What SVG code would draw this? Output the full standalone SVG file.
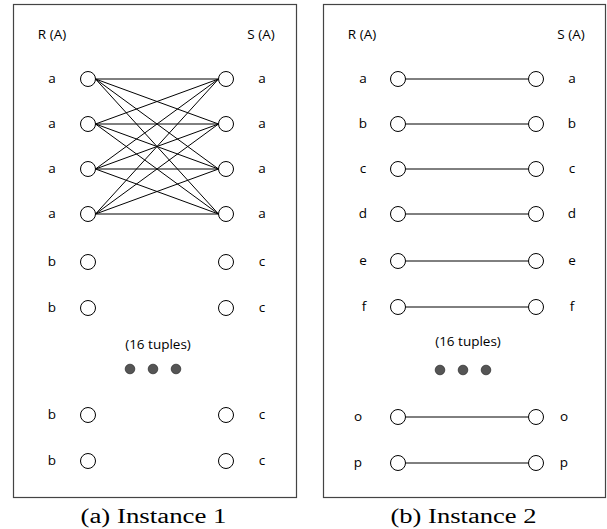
<svg xmlns="http://www.w3.org/2000/svg" width="607" height="529" viewBox="0 0 607 529">
<style>
.frame{fill:#fff;stroke:#444;stroke-width:1.2}
.n{fill:#fff;stroke:#000;stroke-width:1}
.lbl{font-family:"Open Sans","Liberation Sans",sans-serif;font-size:13.5px;fill:#000;text-anchor:middle}
.cap{font-family:"Liberation Serif","DejaVu Serif",serif;font-size:20px;fill:#000;text-anchor:middle}
.dot{fill:#555;stroke:#333;stroke-width:0.8}
.e{stroke:#000;stroke-width:1;fill:none}
</style>
<rect width="607" height="529" fill="#fff"/>
<g id="panel-a">
<rect class="frame" x="13.5" y="4.5" width="283" height="493"/>
<text class="lbl" x="52" y="39">R (A)</text>
<text class="lbl" x="261" y="39">S (A)</text>
<g id="edges-a">
<path class="e" d="M95.5,79L218.5,79M95.5,79L218.5,124M95.5,79L218.5,169M95.5,79L218.5,214M95.5,124L218.5,79M95.5,124L218.5,124M95.5,124L218.5,169M95.5,124L218.5,214M95.5,169L218.5,79M95.5,169L218.5,124M95.5,169L218.5,169M95.5,169L218.5,214M95.5,214L218.5,79M95.5,214L218.5,124M95.5,214L218.5,169M95.5,214L218.5,214"/>
</g>
<g id="a-r1"><circle class="n" cx="88" cy="79" r="7.5"/><text class="lbl" x="52" y="83">a</text></g>
<g id="a-r2"><circle class="n" cx="88" cy="124" r="7.5"/><text class="lbl" x="52" y="128">a</text></g>
<g id="a-r3"><circle class="n" cx="88" cy="169" r="7.5"/><text class="lbl" x="52" y="173">a</text></g>
<g id="a-r4"><circle class="n" cx="88" cy="214" r="7.5"/><text class="lbl" x="52" y="218">a</text></g>
<g id="a-r5"><circle class="n" cx="88" cy="262" r="7.5"/><text class="lbl" x="52" y="266">b</text></g>
<g id="a-r6"><circle class="n" cx="88" cy="308" r="7.5"/><text class="lbl" x="52" y="312">b</text></g>
<g id="a-r7"><circle class="n" cx="88" cy="415" r="7.5"/><text class="lbl" x="52" y="419">b</text></g>
<g id="a-r8"><circle class="n" cx="88" cy="461" r="7.5"/><text class="lbl" x="52" y="465">b</text></g>
<g id="a-s1"><circle class="n" cx="226" cy="79" r="7.5"/><text class="lbl" x="262" y="83">a</text></g>
<g id="a-s2"><circle class="n" cx="226" cy="124" r="7.5"/><text class="lbl" x="262" y="128">a</text></g>
<g id="a-s3"><circle class="n" cx="226" cy="169" r="7.5"/><text class="lbl" x="262" y="173">a</text></g>
<g id="a-s4"><circle class="n" cx="226" cy="214" r="7.5"/><text class="lbl" x="262" y="218">a</text></g>
<g id="a-s5"><circle class="n" cx="226" cy="262" r="7.5"/><text class="lbl" x="262" y="266">c</text></g>
<g id="a-s6"><circle class="n" cx="226" cy="308" r="7.5"/><text class="lbl" x="262" y="312">c</text></g>
<g id="a-s7"><circle class="n" cx="226" cy="415" r="7.5"/><text class="lbl" x="262" y="419">c</text></g>
<g id="a-s8"><circle class="n" cx="226" cy="461" r="7.5"/><text class="lbl" x="262" y="465">c</text></g>
<text class="lbl" x="158" y="349">(16 tuples)</text>
<circle class="dot" cx="130" cy="369" r="4.8"/>
<circle class="dot" cx="153" cy="369" r="4.8"/>
<circle class="dot" cx="176" cy="369" r="4.8"/>
<text class="cap" x="153.5" y="523" textLength="146" lengthAdjust="spacingAndGlyphs">(a) Instance 1</text>
</g>
<g id="panel-b">
<rect class="frame" x="323.5" y="4.5" width="282" height="493"/>
<text class="lbl" x="362" y="39">R (A)</text>
<text class="lbl" x="571" y="39">S (A)</text>
<g id="edges-b">
<path class="e" d="M405.5,79H528.5M405.5,124H528.5M405.5,169H528.5M405.5,214H528.5M405.5,261H528.5M405.5,307H528.5M405.5,417H528.5M405.5,463H528.5"/>
</g>
<g id="b-r1"><circle class="n" cx="398" cy="79" r="7.5"/><text class="lbl" x="363" y="83">a</text></g>
<g id="b-r2"><circle class="n" cx="398" cy="124" r="7.5"/><text class="lbl" x="363" y="128">b</text></g>
<g id="b-r3"><circle class="n" cx="398" cy="169" r="7.5"/><text class="lbl" x="363" y="173">c</text></g>
<g id="b-r4"><circle class="n" cx="398" cy="214" r="7.5"/><text class="lbl" x="363" y="218">d</text></g>
<g id="b-r5"><circle class="n" cx="398" cy="261" r="7.5"/><text class="lbl" x="363" y="265">e</text></g>
<g id="b-r6"><circle class="n" cx="398" cy="307" r="7.5"/><text class="lbl" x="364" y="311">f</text></g>
<g id="b-r7"><circle class="n" cx="398" cy="417" r="7.5"/><text class="lbl" x="358" y="421">o</text></g>
<g id="b-r8"><circle class="n" cx="398" cy="463" r="7.5"/><text class="lbl" x="358" y="467">p</text></g>
<g id="b-s1"><circle class="n" cx="536" cy="79" r="7.5"/><text class="lbl" x="572" y="83">a</text></g>
<g id="b-s2"><circle class="n" cx="536" cy="124" r="7.5"/><text class="lbl" x="572" y="128">b</text></g>
<g id="b-s3"><circle class="n" cx="536" cy="169" r="7.5"/><text class="lbl" x="572" y="173">c</text></g>
<g id="b-s4"><circle class="n" cx="536" cy="214" r="7.5"/><text class="lbl" x="572" y="218">d</text></g>
<g id="b-s5"><circle class="n" cx="536" cy="261" r="7.5"/><text class="lbl" x="572" y="265">e</text></g>
<g id="b-s6"><circle class="n" cx="536" cy="307" r="7.5"/><text class="lbl" x="572" y="311">f</text></g>
<g id="b-s7"><circle class="n" cx="536" cy="417" r="7.5"/><text class="lbl" x="564" y="421">o</text></g>
<g id="b-s8"><circle class="n" cx="536" cy="463" r="7.5"/><text class="lbl" x="564" y="467">p</text></g>
<text class="lbl" x="468" y="346">(16 tuples)</text>
<circle class="dot" cx="440" cy="370" r="4.8"/>
<circle class="dot" cx="463" cy="370" r="4.8"/>
<circle class="dot" cx="486" cy="370" r="4.8"/>
<text class="cap" x="463.5" y="523" textLength="146" lengthAdjust="spacingAndGlyphs">(b) Instance 2</text>
</g>
</svg>
